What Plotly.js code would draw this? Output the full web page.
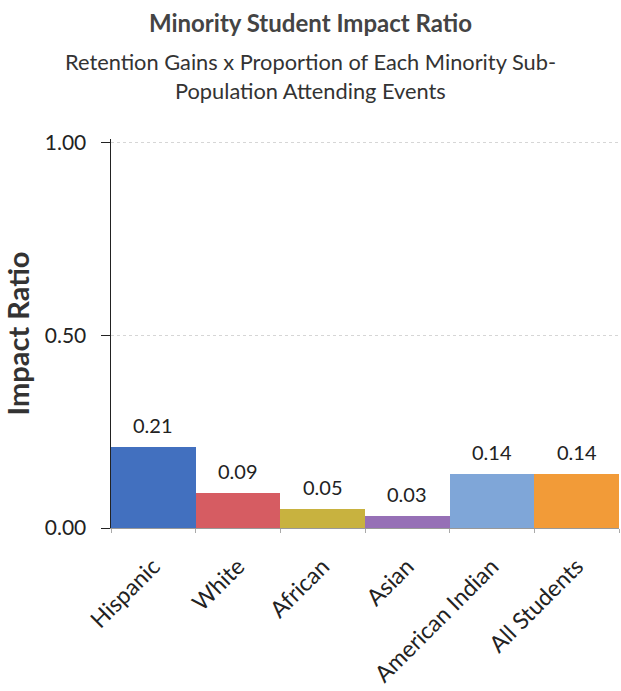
<!DOCTYPE html>
<html>
<head>
<meta charset="utf-8">
<script src="https://cdn.plot.ly/plotly-3.0.1.min.js"></script>
<style>
  html, body { margin: 0; padding: 0; background: #fff; }
  #chart { width: 621px; height: 691px; }
</style>
</head>
<body>
<div id="chart"></div>
<script>
// Impact ratio per student group
const groups = ["Hispanic", "White", "African", "Asian", "American Indian", "All Students"];
const impactRatio = [0.21, 0.09, 0.05, 0.03, 0.14, 0.14];
const barColors = ["#4270bf", "#d65c62", "#c8b23f", "#9670b6", "#7fa6d8", "#f29b38"];
const yTickValues = [0, 0.5, 1.0];

const FONT = "Lato, 'Open Sans', sans-serif";
const W = 621, H = 691;
const M = { l: 111, r: 2, t: 139, b: 163 };
const plotW = W - M.l - M.r;
const plotH = H - M.t - M.b;
// horizontal page centre expressed in plot-area fractions
const pageCentre = (W / 2 - M.l) / plotW;
// page pixel row -> plot-area fraction
const rowToPaper = py => (H - M.b - py) / plotH;

const bars = {
  type: "bar",
  x: groups,
  y: impactRatio,
  marker: { color: barColors, line: { width: 0 } },
  hoverinfo: "x+y",
  showlegend: false
};

// value labels sitting above each bar
const valueLabels = groups.map((g, i) => ({
  x: g,
  y: impactRatio[i],
  xref: "x",
  yref: "y",
  text: impactRatio[i].toFixed(2),
  showarrow: false,
  yanchor: "bottom",
  yshift: 8,
  font: { family: FONT, size: 20, color: "#222" }
}));

const subtitle = [
  { text: "Retention Gains x Proportion of Each Minority Sub-", row: 62 },
  { text: "Population Attending Events", row: 91 }
].map(s => ({
  text: s.text,
  xref: "paper",
  yref: "paper",
  x: pageCentre,
  xanchor: "center",
  y: rowToPaper(s.row),
  yanchor: "middle",
  showarrow: false,
  font: { family: FONT, size: 21.8, color: "#333" }
}));

const layout = {
  width: W,
  height: H,
  margin: M,
  paper_bgcolor: "#fff",
  plot_bgcolor: "#fff",
  title: {
    text: "<b>Minority Student Impact Ratio</b>",
    x: 0.5,
    xref: "container",
    xanchor: "center",
    y: 1 - 24 / H,
    yanchor: "middle",
    font: { family: FONT, size: 24, color: "#444" }
  },
  bargap: 0,
  xaxis: {
    type: "category",
    range: [-0.5, 5.5],
    tickangle: -45,
    tickson: "boundaries",
    ticks: "outside",
    ticklen: 4,
    tickcolor: "#aaa",
    ticklabelstandoff: 15,
    showline: true,
    linecolor: "#999",
    linewidth: 1,
    showgrid: false,
    tickfont: { family: FONT, size: 23, color: "#222" }
  },
  yaxis: {
    range: [0, 1.01],
    tickvals: yTickValues,
    tickformat: ".2f",
    ticks: "outside",
    ticklen: 9,
    tickcolor: "#222",
    ticklabelstandoff: 10,
    showline: true,
    linecolor: "#222",
    linewidth: 1.5,
    showgrid: true,
    gridcolor: "#d6d6d6",
    griddash: "dot",
    zeroline: false,
    tickfont: { family: FONT, size: 21, color: "#222" },
    title: {
      text: "<b>Impact Ratio</b>",
      standoff: 10,
      font: { family: FONT, size: 29, color: "#333" }
    }
  },
  annotations: valueLabels.concat(subtitle)
};

Plotly.newPlot("chart", [bars], layout, { displayModeBar: false, staticPlot: true });
</script>
</body>
</html>
